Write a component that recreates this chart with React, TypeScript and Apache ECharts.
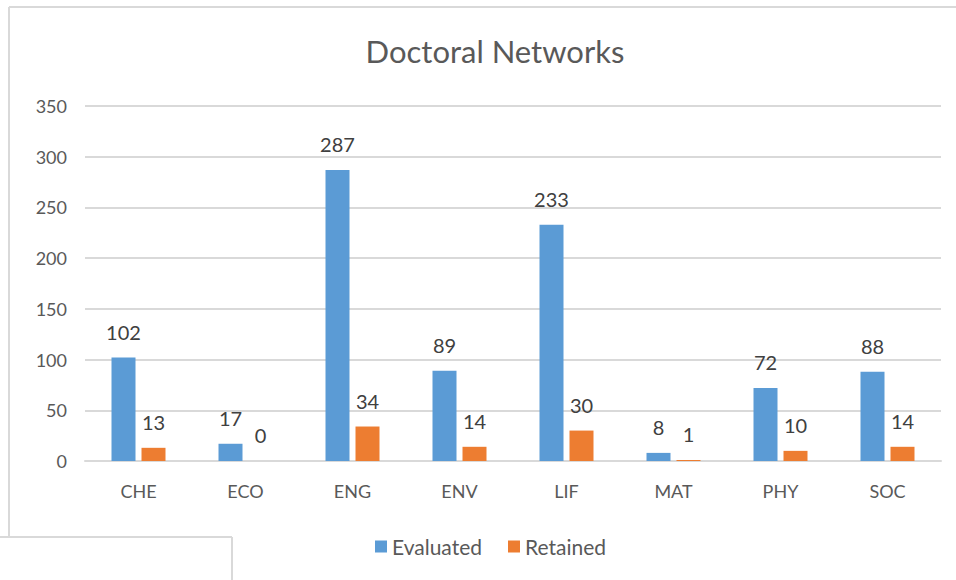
import React, { useEffect, useRef } from "react";
import * as echarts from "echarts";

const categories = ["CHE", "ECO", "ENG", "ENV", "LIF", "MAT", "PHY", "SOC"];
const evaluated = [102, 17, 287, 89, 233, 8, 72, 88];
const retained = [13, 0, 34, 14, 30, 1, 10, 14];
const seriesNames = ["Evaluated", "Retained"];
const titleText = "Doctoral Networks";

const FONT = "Lato, 'Open Sans', sans-serif";

export default function App() {
  const ref = useRef<HTMLDivElement>(null);
  useEffect(() => {
    if (!ref.current) return;
    const chart = echarts.init(ref.current, undefined, { renderer: "svg" });
    const border = "#d9d9d9";
    const labelStyle = { show: true, position: "top", distance: 16, fontFamily: FONT, fontSize: 20, color: "#404040" };
    chart.setOption({
      animation: false,
      backgroundColor: "#ffffff",
      textStyle: { fontFamily: FONT },
      title: {
        text: titleText,
        left: 490,
        top: 30,
        textAlign: "center",
        textStyle: { fontFamily: FONT, fontSize: 31, fontWeight: "normal", color: "#595959" },
      },
      legend: {
        data: seriesNames,
        left: 370,
        top: 531,
        itemWidth: 12,
        itemHeight: 12,
        itemGap: 26,
        icon: "rect",
        textStyle: { fontFamily: FONT, fontSize: 21, color: "#595959" },
      },
      grid: { left: 85, right: 15, top: 106, bottom: 119, containLabel: false },
      xAxis: {
        type: "category",
        data: categories,
        axisLine: { lineStyle: { color: border, width: 2 } },
        axisTick: { show: false },
        axisLabel: { fontFamily: FONT, fontSize: 18, color: "#595959", margin: 21 },
      },
      yAxis: {
        type: "value",
        min: 0,
        max: 350,
        interval: 50,
        axisLine: { show: false },
        axisTick: { show: false },
        axisLabel: { fontFamily: FONT, fontSize: 18, color: "#595959", margin: 18 },
        splitLine: { lineStyle: { color: border, width: 2 } },
      },
      series: [
        {
          name: seriesNames[0],
          type: "bar",
          data: evaluated,
          barWidth: 24,
          barGap: "25%",
          itemStyle: { color: "#5B9BD5" },
          label: labelStyle,
        },
        {
          name: seriesNames[1],
          type: "bar",
          data: retained,
          barWidth: 24,
          itemStyle: { color: "#ED7D31" },
          label: labelStyle,
        },
      ],
      graphic: [
        { type: "line", shape: { x1: 9, y1: 7, x2: 956, y2: 7 }, style: { stroke: border, lineWidth: 2 }, silent: true },
        { type: "line", shape: { x1: 9, y1: 7, x2: 9, y2: 537 }, style: { stroke: border, lineWidth: 2 }, silent: true },
        { type: "line", shape: { x1: 0, y1: 537, x2: 232, y2: 537 }, style: { stroke: border, lineWidth: 2 }, silent: true },
        { type: "line", shape: { x1: 232, y1: 537, x2: 232, y2: 580 }, style: { stroke: border, lineWidth: 2 }, silent: true },
      ],
    });
    return () => chart.dispose();
  }, []);
  return (
    <div
      ref={ref}
      style={{ position: "fixed", left: 0, top: 0, width: 956, height: 580, background: "#fff" }}
    />
  );
}
